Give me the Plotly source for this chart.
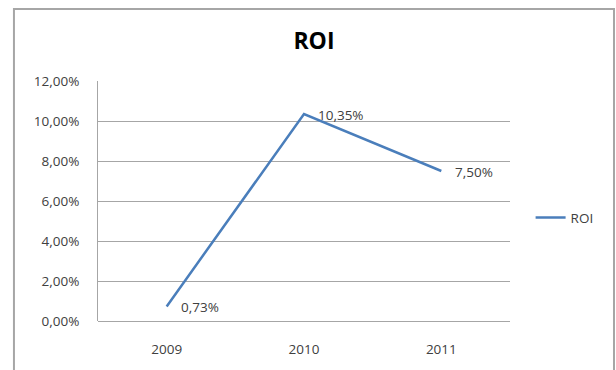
import plotly.graph_objects as go

years = ["2009", "2010", "2011"]
roi = [0.0073, 0.1035, 0.0750]
y_ticks = [0, 0.02, 0.04, 0.06, 0.08, 0.10, 0.12]

line_color = "#4A7EBB"
text_color = "#404040"
grid_color = "#A6A6A6"
font_family = "'Open Sans', Lato, sans-serif"

fig = go.Figure()
fig.add_trace(go.Scatter(
    x=years, y=roi, name="ROI",
    mode="lines",
    line=dict(color=line_color, width=2.5),
))

# Data labels to the right of each point (category index on the x axis)
for i, v in enumerate(roi):
    fig.add_annotation(
        x=i, y=v, xref="x", yref="y",
        text=f"{v * 100:.2f}%".replace(".", ","),
        showarrow=False, xanchor="left", yanchor="middle",
        xshift=12, yshift=-1,
        font=dict(size=13.5, color=text_color, family=font_family),
    )

# Chart frame around the whole chart area
fig.add_shape(type="rect", xref="paper", yref="paper",
              x0=-0.204, x1=1.2524, y0=-0.3, y1=1.3,
              line=dict(color="#A6A6A6", width=2), layer="below")

fig.update_layout(
    width=616, height=370,
    margin=dict(l=98, r=106, t=81, b=49),
    paper_bgcolor="white", plot_bgcolor="white",
    separators=",.",
    title=dict(text="<b>ROI</b>", x=314 / 616, xanchor="center",
               y=1 - 41 / 370, yanchor="middle",
               font=dict(size=23, color="#000000", family=font_family)),
    font=dict(family=font_family, size=13.5, color=text_color),
    showlegend=True,
    legend=dict(x=1.05, y=0.43, xanchor="left", yanchor="middle",
                font=dict(size=13.5, color=text_color), bgcolor="rgba(0,0,0,0)"),
    xaxis=dict(type="category", range=[-0.5, 2.5], showgrid=False,
               showline=False, ticks="", ticklabelstandoff=18,
               tickfont=dict(size=13.5, color=text_color)),
    yaxis=dict(range=[0, 0.12], tickvals=y_ticks, tickformat=".2%",
               showgrid=True, gridcolor=grid_color, gridwidth=1,
               showline=True, linecolor=grid_color, linewidth=1,
               zeroline=True, zerolinecolor=grid_color, zerolinewidth=1,
               ticks="", ticklabelstandoff=15,
               tickfont=dict(size=13.5, color=text_color)),
)

fig.write_html("out.html")
